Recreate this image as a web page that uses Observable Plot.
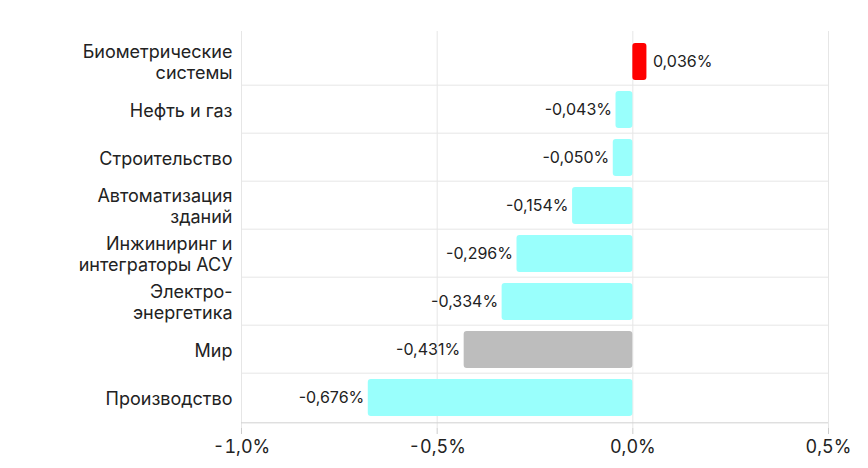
<!DOCTYPE html>
<html><head><meta charset="utf-8">
<script src="https://cdn.jsdelivr.net/npm/d3@7"></script>
<script src="https://cdn.jsdelivr.net/npm/@observablehq/plot@0.6"></script>
<style>body{margin:0;background:#fff;font-family:Inter,sans-serif}</style>
</head><body><div id="c"></div>
<script>
const categories = ["Биометрические\nсистемы","Нефть и газ","Строительство","Автоматизация\nзданий","Инжиниринг и\nинтеграторы АСУ","Электро-\nэнергетика","Мир","Производство"];
const values = [0.036,-0.043,-0.050,-0.154,-0.296,-0.334,-0.431,-0.676];
const colors = ["#ff0000","#99fffc","#99fffc","#99fffc","#99fffc","#99fffc","#bdbdbd","#99fffc"];
const xTicks = [-1.0,-0.5,0,0.5];
const data = categories.map((c,i)=>({c,v:values[i],col:colors[i]}));
const fmt = v => v.toFixed(3).replace(".",",")+"%";
const H=468, mt=31, mb=40, step=(H-mt-mb)/categories.length;
const chart = Plot.plot({
  width:868,height:H,marginLeft:241,marginRight:40,marginTop:mt,marginBottom:mb,
  style:{fontFamily:"Inter,sans-serif",fontSize:"17px",color:"#222"},
  x:{domain:[-1,0.5],label:null},
  y:{domain:categories,padding:0.22,label:null},
  marks:[
    Plot.ruleX(xTicks,{stroke:"#e6e6e6"}),
    Plot.ruleY(categories.slice(1),{y:d=>d,dy:-step/2,stroke:"#e6e6e6"}),
    Plot.barX(data,{x1:0,x2:"v",y:"c",fill:"col",rx:3}),
    Plot.text(data.filter(d=>d.v<0),{x:"v",y:"c",text:d=>fmt(d.v),textAnchor:"end",dx:-4,fontSize:16,fill:"#222"}),
    Plot.text(data.filter(d=>d.v>=0),{x:"v",y:"c",text:d=>fmt(d.v),textAnchor:"start",dx:6,fontSize:16,fill:"#222"}),
    Plot.ruleY([categories[categories.length-1]],{y:d=>d,dy:step/2,stroke:"#d0d0d0"}),
    Plot.axisY({tickSize:0,tickPadding:9,fontSize:18,lineHeight:1.15,label:null}),
    Plot.axisX({ticks:xTicks,tickFormat:d=>d.toFixed(1).replace(".",",")+"%",fontSize:18,tickSize:6,tickPadding:6,stroke:"#ccc",label:null})
  ]
});
document.getElementById("c").append(chart);
</script></body></html>
